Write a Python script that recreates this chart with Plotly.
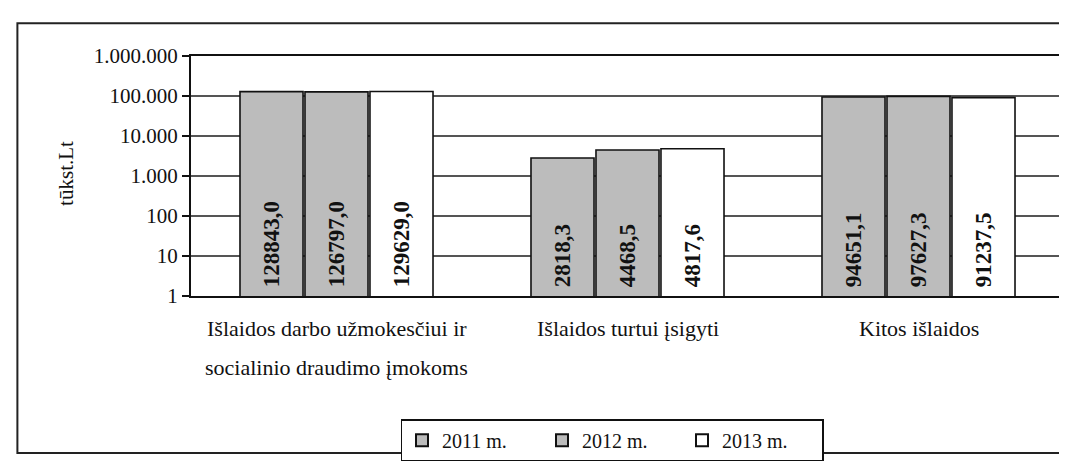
import plotly.graph_objects as go

categories = ["Išlaidos darbo užmokesčiui ir socialinio draudimo įmokoms",
              "Išlaidos turtui įsigyti",
              "Kitos išlaidos"]
category_lines = [["Išlaidos darbo užmokesčiui ir", "socialinio draudimo įmokoms"],
                  ["Išlaidos turtui įsigyti"],
                  ["Kitos išlaidos"]]
series_names = ["2011 m.", "2012 m.", "2013 m."]
values_2011 = [128843.0, 2818.3, 94651.1]
values_2012 = [126797.0, 4468.5, 97627.3]
values_2013 = [129629.0, 4817.6, 91237.5]
tick_vals = [1, 10, 100, 1000, 10000, 100000, 1000000]
tick_text = ["1", "10", "100", "1.000", "10.000", "100.000", "1.000.000"]
y_title = "tūkst.Lt"

colors = ["#bcbcbc", "#bcbcbc", "#ffffff"]
FONT = "Liberation Serif"

def fmt(v):
    return "\u00a0" + f"{v:.1f}".replace(".", ",")

fig = go.Figure()
for name, vals, col in zip(series_names, [values_2011, values_2012, values_2013], colors):
    fig.add_trace(go.Bar(
        x=categories, y=vals, name=name,
        marker=dict(color=col, line=dict(color="#111111", width=1.6)),
        text=[fmt(v) for v in vals],
        textposition="inside", insidetextanchor="start", textangle=-90,
        textfont=dict(family=FONT, size=23, color="#111111", weight="bold"),
        constraintext="none",
    ))

W, H = 1067, 463
L, R, T, B = 183, 9, 48, 166
pw, ph = W - L - R, H - T - B

def px(xp):
    return (xp - L) / pw

def py(yp):
    return (H - B - yp) / ph

annotations = []
for cat, lines in zip(categories, category_lines):
    for i, line in enumerate(lines):
        annotations.append(dict(
            x=cat, xref="x", y=py(331 + 40 * i), yref="paper",
            text=line, showarrow=False, xanchor="center", yanchor="middle",
            font=dict(family=FONT, size=22, color="#111111")))
annotations.append(dict(
    x=px(57), xref="paper", y=py(170), yref="paper", text=y_title,
    textangle=-90, showarrow=False, xanchor="center", yanchor="middle",
    font=dict(family=FONT, size=21, color="#111111")))

fig.update_layout(
    width=W, height=H,
    margin=dict(l=L, r=R, t=T, b=B),
    paper_bgcolor="white", plot_bgcolor="white",
    barmode="group", bargap=0.33, bargroupgap=0.03,
    font=dict(family=FONT, size=20, color="#111111"),
    showlegend=True,
    legend=dict(orientation="h", x=px(393), y=py(425), xanchor="left", yanchor="top",
                bordercolor="#111111", borderwidth=1.5, bgcolor="white",
                font=dict(family=FONT, size=20, color="#111111"),
                entrywidth=95, entrywidthmode="pixels", itemsizing="constant",
                itemwidth=30, traceorder="normal"),
    annotations=annotations,
    shapes=[dict(type="rect", xref="paper", yref="paper",
                 x0=px(9), x1=px(1075), y0=py(460), y1=py(14),
                 line=dict(color="#222222", width=2), layer="below")],
    xaxis=dict(showticklabels=False, showline=True, linecolor="#111111", linewidth=2,
               mirror=True, ticks="", showgrid=False, type="category"),
    yaxis=dict(type="log", range=[0, 6], tickvals=tick_vals, ticktext=tick_text,
               showline=True, linecolor="#111111", linewidth=2, mirror=True,
               ticks="outside", ticklen=7, tickcolor="#111111", tickwidth=1.5,
               showgrid=True, gridcolor="#555555", gridwidth=1.5,
               tickfont=dict(family=FONT, size=21, color="#111111"), zeroline=False),
)

fig.write_html("out.html")
